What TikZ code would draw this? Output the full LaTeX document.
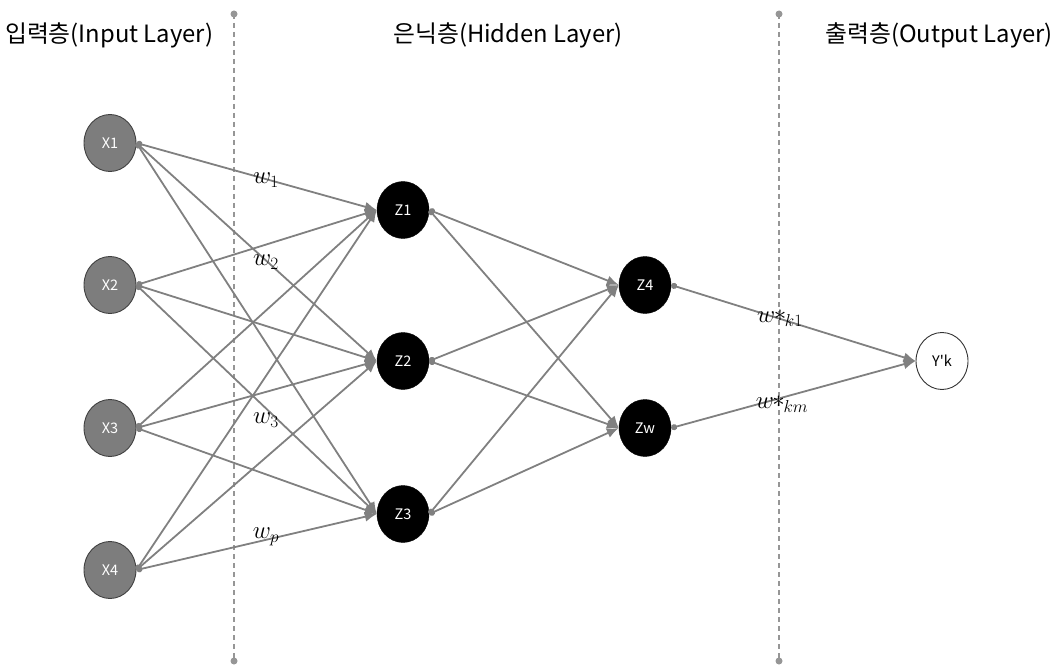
\documentclass[tikz,border=0pt]{standalone}
\usepackage{fontspec}
\newfontfamily\kr{Noto Sans CJK KR}
\usetikzlibrary{arrows.meta,shapes.geometric}
\definecolor{lineg}{RGB}{128,128,128}
\definecolor{dashg}{RGB}{150,150,150}
\definecolor{inputg}{RGB}{125,125,125}
\begin{document}
\begin{tikzpicture}[x=1pt,y=-1pt,
  neuron/.style={ellipse, inner sep=0pt, minimum width=52pt, minimum height=57pt,
                 font=\kr\fontsize{14.5}{14.5}\selectfont},
  inputn/.style={neuron, fill=inputg, draw=black!75, line width=0.9pt, text=white},
  hiddenn/.style={neuron, fill=black, draw=black, text=white},
  outputn/.style={neuron, fill=white, draw=black!80, line width=0.9pt, text=black},
  conn/.style={draw=lineg, line width=1.8pt,
               {Circle[length=6pt,fill=lineg]}-{Latex[length=12pt,width=10pt,fill=lineg]}},
  wlabel/.style={font=\fontsize{23}{27}\selectfont, inner sep=0pt},
  divider/.style={draw=dashg, line width=1.4pt, dash pattern=on 5pt off 4pt},
  enddot/.style={circle, fill=dashg, inner sep=0pt, minimum size=7pt},
  heading/.style={font=\kr\fontsize{23.8}{28}\selectfont, inner sep=0pt}
]
\useasboundingbox (0,0) rectangle (1059,668);

% headings
\node[heading, anchor=west] (hin) at (5,35) {입력층(Input Layer)};
\node[heading] (hhid) at (508,35) {은닉층(Hidden Layer)};
\node[heading, anchor=east] (hout) at (1053,35) {출력층(Output Layer)};

% dividers
\coordinate (d1t) at (234,14);
\coordinate (d1b) at (234,661);
\coordinate (d2t) at (779,14);
\coordinate (d2b) at (779,661);
\draw[divider] (d1t) -- (d1b);
\draw[divider] (d2t) -- (d2b);
\node[enddot] at (d1t) {};
\node[enddot] at (d1b) {};
\node[enddot] at (d2t) {};
\node[enddot] at (d2b) {};

% nodes
\node[inputn] (x1) at (110,143) {X1};
\node[inputn] (x2) at (110,285) {X2};
\node[inputn] (x3) at (110,428) {X3};
\node[inputn] (x4) at (110,570) {X4};
\node[hiddenn] (z1) at (403,210) {Z1};
\node[hiddenn] (z2) at (403,361) {Z2};
\node[hiddenn] (z3) at (403,514) {Z3};
\node[hiddenn] (z4) at (645,285) {Z4};
\node[hiddenn] (zw) at (645,428) {Zw};
\node[outputn] (y) at (942,361) {Y'k};

% connections
\foreach \s in {x1,x2,x3,x4}
  \foreach \t in {z1,z2,z3}
    \draw[conn] (\s.east) -- (\t.west);
\foreach \s in {z1,z2,z3}
  \foreach \t in {z4,zw}
    \draw[conn] (\s.east) -- (\t.west);
\draw[conn] (z4.east) -- (y.west);
\draw[conn] (zw.east) -- (y.west);

% weight labels
\node[wlabel] (w1) at (266,180) {$w_1$};
\node[wlabel] (w2) at (266,262) {$w_2$};
\node[wlabel] (w3) at (266,420) {$w_3$};
\node[wlabel] (wp) at (266,537) {$w_p$};
\node[wlabel] (wk1) at (780,318) {$w\mkern-1mu\raisebox{1.5pt}{$*$}\mkern-1mu{}_{k1}$};
\node[wlabel] (wkm) at (782,404) {$w\mkern-1mu\raisebox{1.5pt}{$*$}\mkern-1mu{}_{km}$};
\end{tikzpicture}
\end{document}
